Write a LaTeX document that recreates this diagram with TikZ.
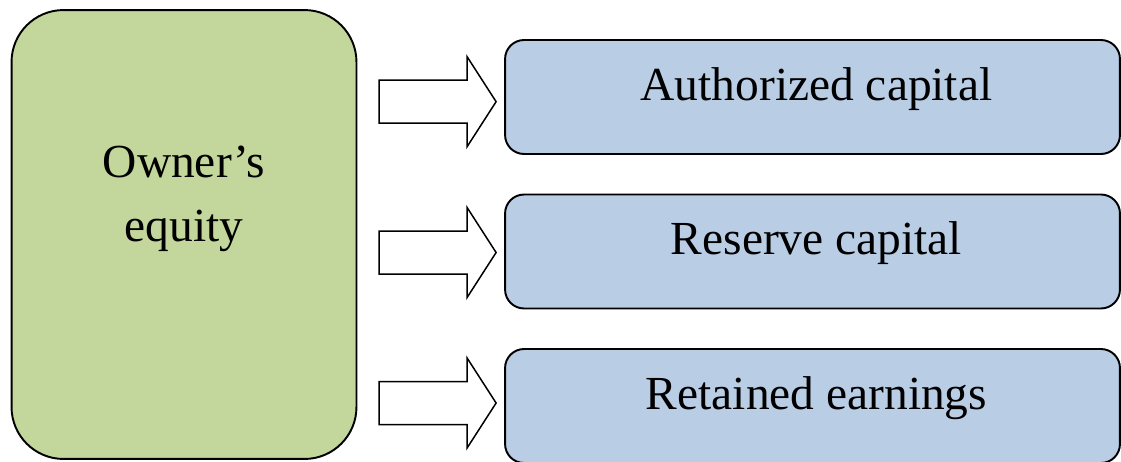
\documentclass[tikz,border=0pt]{standalone}
\usepackage{fontspec}
\setmainfont{Liberation Serif}
\usetikzlibrary{calc}
\definecolor{owngreen}{HTML}{C3D69B}
\definecolor{partblue}{HTML}{B9CDE5}

\begin{document}
\begin{tikzpicture}[x=0.02cm,y=0.02cm,
    ownbox/.style={draw=black,line width=1.1pt,fill=owngreen,rounded corners=1.04cm,
        minimum width=6.9cm,minimum height=8.98cm,inner sep=0pt},
    partbox/.style={draw=black,line width=1.1pt,fill=partblue,rounded corners=0.38cm,
        minimum width=12.3cm,minimum height=2.28cm,inner sep=0pt},
    bigtext/.style={font=\fontsize{27}{36.4}\selectfont,inner sep=0pt},
    blockarrow/.style={draw=black,line width=0.85pt,fill=white,line join=miter}]
\useasboundingbox (0,0) rectangle (1121,461);
\clip (0,0) rectangle (1121,461);
\node[ownbox] (own) at (184,226.5) {};
\node[bigtext,align=center] (owntxt) at (184,262) {Owner’s\\equity};
\node[partbox] (auth) at (812.5,364) {};
\node[partbox] (res) at (812.5,209.5) {};
\node[partbox] (ret) at (812.5,55) {};
\foreach \b/\t in {auth/Authorized capital,res/Reserve capital,ret/Retained earnings}
    \node[bigtext,anchor=base] (\b txt) at ($(\b.center)+(4,-3)$) {\t};
\foreach \b/\dy in {auth/-4.7,res/-1,ret/3}
    \draw[blockarrow] ($(\b.west)+(-8,\dy)$) -- ++(-29,45) -- ++(0,-23.5) -- ++(-88,0)
        -- ++(0,-43) -- ++(88,0) -- ++(0,-23.5) -- cycle;
\end{tikzpicture}
\end{document}
